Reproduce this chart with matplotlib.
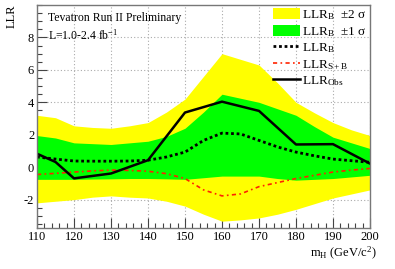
import matplotlib
matplotlib.use("Agg")
import matplotlib.pyplot as plt
from matplotlib.patches import Patch
from matplotlib.lines import Line2D
from matplotlib.ticker import MultipleLocator

plt.rcParams['font.family'] = ['Liberation Serif', 'DejaVu Serif']
plt.rcParams['mathtext.fontset'] = 'custom'
plt.rcParams['mathtext.rm'] = 'Liberation Serif'
plt.rcParams['mathtext.it'] = 'Liberation Serif:italic'

mass = [110, 115, 120, 125, 130, 135, 140, 145, 150, 155, 160, 165, 170, 175, 180, 185, 190, 195, 200]
band2_up = [3.2, 3.05, 2.55, 2.45, 2.4, 2.55, 2.75, 3.4, 4.2, 5.6, 7.0, 6.65, 6.3, 5.2, 4.0, 3.35, 2.75, 2.3, 1.95]
band1_up = [1.95, 1.8, 1.5, 1.45, 1.4, 1.5, 1.6, 1.9, 2.4, 3.4, 4.5, 4.25, 4.0, 3.6, 3.2, 2.5, 1.85, 1.5, 1.15]
band1_dn = [-0.75, -0.75, -0.75, -0.73, -0.72, -0.7, -0.7, -0.72, -0.75, -0.65, -0.55, -0.55, -0.55, -0.7, -0.8, -0.75, -0.7, -0.6, -0.5]
band2_dn = [-2.2, -2.1, -2.0, -1.85, -1.77, -1.85, -1.9, -2.1, -2.4, -2.9, -3.33, -3.25, -3.13, -2.9, -2.6, -2.25, -1.9, -1.65, -1.4]
llr_b = [0.63, 0.5, 0.38, 0.37, 0.37, 0.38, 0.43, 0.63, 0.93, 1.65, 2.1, 2.05, 1.65, 1.25, 0.93, 0.7, 0.5, 0.4, 0.3]
llr_sb = [-0.45, -0.38, -0.3, -0.23, -0.18, -0.2, -0.25, -0.4, -0.7, -1.4, -1.77, -1.65, -1.2, -0.95, -0.7, -0.5, -0.3, -0.18, -0.08]
obs_mass = [110, 115, 120, 130, 140, 150, 160, 170, 180, 190, 200]
llr_obs = [0.83, 0.32, -0.69, -0.39, 0.43, 3.37, 4.04, 3.47, 1.4, 1.42, 0.22]

xticks = [110, 120, 130, 140, 150, 160, 170, 180, 190, 200]
yticks = [-2, 0, 2, 4, 6, 8]

fig = plt.figure(figsize=(3.95, 2.69), dpi=100)
ax = fig.add_axes([37/395, 1 - 228/269, 333/395, 223/269])

yellow = '#ffff00'
green = '#00ff00'

ax.fill_between(mass, band2_dn, band2_up, color=yellow, lw=0, zorder=1)
ax.fill_between(mass, band1_dn, band1_up, color=green, lw=0, zorder=1.1)
ax.plot(mass, llr_b, color='black', lw=2.0, linestyle=(0, (1, 1)), zorder=3)
ax.plot(mass, llr_sb, color='#ff2200', lw=1.2, linestyle=(0, (2.5, 2, 1, 2)), zorder=3)
ax.plot(obs_mass, llr_obs, color='black', lw=1.8, zorder=3.2)

ax.set_xlim(110, 200)
ax.set_ylim(-3.75, 10.0)
ax.set_xticks(xticks)
ax.set_xticklabels([str(v) for v in xticks])
ax.set_yticks(yticks)
ax.set_yticklabels([str(v) for v in yticks])
ax.xaxis.set_minor_locator(MultipleLocator(2))
ax.yaxis.set_minor_locator(MultipleLocator(0.5))
ax.tick_params(which='both', direction='in', top=False, right=False, colors='#444444', labelcolor='black', labelsize=9)
ax.tick_params(which='major', length=7, width=0.8)
ax.tick_params(which='minor', length=3.5, width=0.8)
ax.tick_params(axis='x', pad=2)
ax.tick_params(axis='y', pad=2)
ax.set_axisbelow(True)
ax.grid(True, which='major', color='#aaaaaa', lw=0.8, linestyle=(0, (1, 2)))
for s in ax.spines.values():
    s.set_color('#777777')
    s.set_linewidth(1.0)
    s.set_zorder(5)

ax.text(0.033, 0.97, 'Tevatron Run II Preliminary', transform=ax.transAxes, fontsize=8.5, va='top', ha='left')
ax.text(0.033, 0.895, 'L=1.0-2.4 fb$^{-1}$', transform=ax.transAxes, fontsize=8.5, va='top', ha='left')

handles = [Patch(facecolor=yellow, edgecolor='none'),
           Patch(facecolor=green, edgecolor='none'),
           Line2D([], [], color='black', lw=2.0, linestyle=(0, (1, 1))),
           Line2D([], [], color='#ff2200', lw=1.2, linestyle=(0, (2.5, 2, 1, 2))),
           Line2D([], [], color='black', lw=1.8)]
labels = ['LLR$_\\mathrm{B}$  \u00b12 \u03c3', 'LLR$_\\mathrm{B}$  \u00b11 \u03c3',
          'LLR$_\\mathrm{B}$', 'LLR$_\\mathrm{S+B}$', 'LLR$_\\mathrm{Obs}$']
leg = ax.legend(handles, labels, loc='upper right', bbox_to_anchor=(1.0, 1.0), frameon=False,
                fontsize=9.5, handlelength=2.0, handleheight=0.9, handletextpad=0.2,
                labelspacing=0.2, borderpad=0.15, borderaxespad=0.1)
leg.set_zorder(6)

fig.text(12/395, 1 - 4/269, 'LLR', rotation=90, va='top', ha='center', fontsize=9)
fig.text(377/395, 1 - 253/269, 'm$_\\mathrm{H}$ (GeV/c$^2$)', ha='right', va='center', fontsize=9)

fig.savefig('out.png', dpi=100)
